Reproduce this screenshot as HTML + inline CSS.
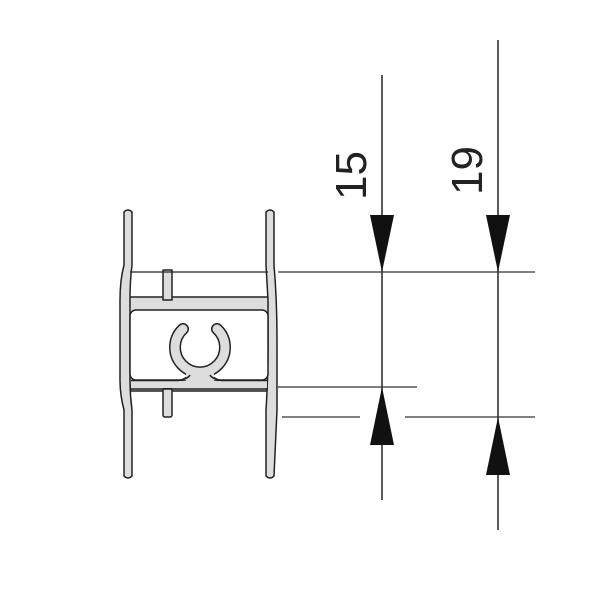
<!DOCTYPE html>
<html><head><style>body{margin:0;background:#fff}svg{display:block}</style></head>
<body>
<svg width="600" height="600" viewBox="0 0 600 600" xmlns="http://www.w3.org/2000/svg">
<g stroke="#333" stroke-width="1.6">
<line x1="382" y1="75" x2="382" y2="500"/>
<line x1="498" y1="40" x2="498" y2="530"/>
<line x1="278" y1="272" x2="535" y2="272" stroke-width="1.3"/>
<line x1="278" y1="387" x2="417" y2="387" stroke-width="1.3"/>
<line x1="282" y1="417" x2="360" y2="417" stroke-width="1.3"/>
<line x1="405" y1="417" x2="535" y2="417" stroke-width="1.3"/>
</g>
<g fill="#111">
<polygon points="370,215 394,215 382,272"/>
<polygon points="486,215 510,215 498,272"/>
<polygon points="382,387 370,445 394,445"/>
<polygon points="498,417 486,475 510,475"/>
</g>
<g font-family="Liberation Sans, sans-serif" font-size="44" fill="#222">
<text transform="translate(366,200) rotate(-90)">15</text>
<text transform="translate(482,195) rotate(-90)">19</text>
</g>
<g fill="#ddd" stroke="#222" stroke-width="1.5" stroke-linejoin="round">
<rect x="126" y="297" width="146" height="94"/>
<rect x="163" y="270" width="9" height="30"/>
<rect x="163" y="388" width="9" height="29" rx="2"/>
<path d="M124,212 Q128,208 132,212 L132,265 Q130,280 130,300 L130,380 Q130,395 132,410 L132,476 Q128,480 124,476 L124,410 Q120,395 120,380 L120,300 Q120,280 124,265 Z"/>
<path d="M266,212 Q270,208 274,212 L274,265 Q277,300 277,340 L277,410 L274,476 Q270,480 266,476 L266,410 Q268,380 268,340 L268,300 L266,265 Z"/>
</g>
<g fill="#fff" stroke="#222" stroke-width="1.5">
<rect x="130" y="310" width="138" height="70" rx="6"/>
<line x1="130" y1="272" x2="268" y2="272" stroke-width="1.2"/>
</g>
<path d="M178,381 Q190,378 190,370 L210,370 Q210,378 222,381 Z" fill="#ddd" stroke="#222" stroke-width="1.5"/>
<path d="M183,329 A25,25 0 1 0 217,329" fill="none" stroke="#222" stroke-width="12" stroke-linecap="round"/>
<path d="M183,329 A25,25 0 1 0 217,329" fill="none" stroke="#ddd" stroke-width="9" stroke-linecap="round"/>
<rect x="186" y="372" width="28" height="10" fill="#ddd"/>
<rect x="131" y="381" width="136" height="7" fill="#ddd"/>
<path d="M131,380.5 L178,380.5 Q188,379 190,375 M210,375 Q212,379 222,380.5 L267,380.5" fill="none" stroke="#222" stroke-width="1.5"/>
<line x1="130" y1="389" x2="268" y2="389" stroke="#222" stroke-width="1.5"/>
</svg>
</body></html>
